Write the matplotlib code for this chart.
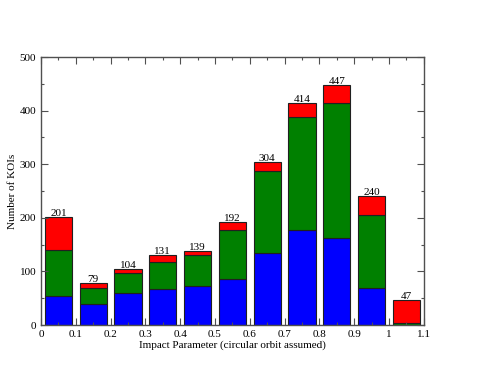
import numpy as np
import matplotlib
matplotlib.use('Agg')
import matplotlib.pyplot as plt
from matplotlib.ticker import MultipleLocator

# bin centres of impact parameter
bins = [0.05, 0.15, 0.25, 0.35, 0.45, 0.55, 0.65, 0.75, 0.85, 0.95, 1.05]
# stacked counts per bin
blue = [54, 39, 59, 67, 72, 86, 135, 177, 162, 70, 0]
green = [86, 31, 39, 50, 58, 91, 153, 212, 252, 135, 3]
red = [61, 9, 6, 14, 9, 15, 16, 25, 33, 35, 44]
totals = [201, 79, 104, 131, 139, 192, 304, 414, 447, 240, 47]

plt.rcParams['font.family'] = ['Liberation Serif', 'DejaVu Serif']

fig = plt.figure(figsize=(4.79, 3.69), dpi=100)
ax = fig.add_axes([0.0856, 0.119, 0.799, 0.7265])

blue = np.array(blue)
green = np.array(green)
red = np.array(red)
w = 0.078
ax.bar(bins, blue, width=w, color='#0000ff', edgecolor='#202020', linewidth=0.8)
ax.bar(bins, green, width=w, bottom=blue, color='#008000', edgecolor='#202020', linewidth=0.8)
ax.bar(bins, red, width=w, bottom=blue + green, color='#ff0000', edgecolor='#202020', linewidth=0.8)

for x, t in zip(bins, totals):
    ax.text(x, t - 2, str(t), ha='center', va='bottom', fontsize=8)

ax.set_xlim(0, 1.1)
ax.set_ylim(0, 500)
ax.xaxis.set_major_locator(MultipleLocator(0.1))
ax.xaxis.set_minor_locator(MultipleLocator(0.05))
ax.yaxis.set_major_locator(MultipleLocator(100))
ax.yaxis.set_minor_locator(MultipleLocator(50))
ax.set_xticks(np.arange(0, 1.11, 0.1))
ax.set_xticklabels(['0', '0.1', '0.2', '0.3', '0.4', '0.5', '0.6', '0.7', '0.8', '0.9', '1', '1.1'])
ax.tick_params(which='both', direction='in', top=True, right=True, colors='#505050', labelcolor='black', labelsize=8)
ax.tick_params(which='major', length=5, width=0.8)
ax.tick_params(which='minor', length=2.5, width=0.8)
for s in ax.spines.values():
    s.set_color('#505050')
    s.set_linewidth(1.0)

ax.set_xlabel('Impact Parameter (circular orbit assumed)', fontsize=8, labelpad=1)
ax.set_ylabel('Number of KOIs', fontsize=8, labelpad=2)

fig.savefig('out.png', dpi=100)
